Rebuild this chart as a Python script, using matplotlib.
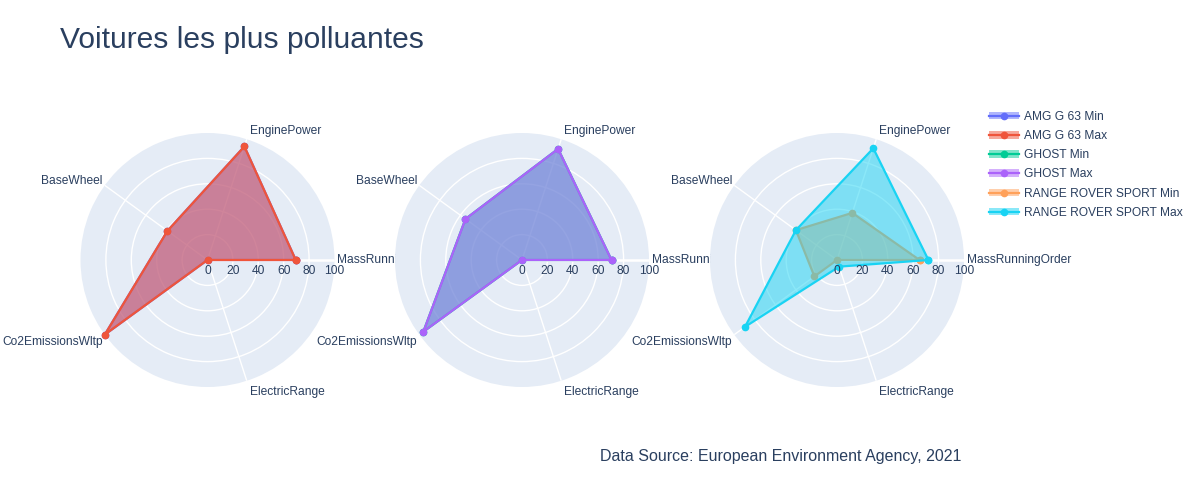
#!/usr/bin/env python3
"""
Radar charts: most polluting cars (normalised min/max specs per model).
"""

import numpy as np
import matplotlib
matplotlib.use("Agg")
import matplotlib.pyplot as plt
from matplotlib.lines import Line2D
from matplotlib.patches import Patch
from matplotlib.legend_handler import HandlerTuple

plt.rcParams["font.family"] = ["Liberation Sans", "DejaVu Sans"]

# --- data (normalised 0-100) ---
categories = ["MassRunningOrder", "EnginePower", "BaseWheel", "Co2EmissionsWltp", "ElectricRange"]
radial_ticks = [0, 20, 40, 60, 80, 100]

amg_min = [69.5, 94, 39, 100, 0]
amg_max = [69.5, 94, 39, 100, 0]
ghost_min = [70.5, 92, 55, 96, 0]
ghost_max = [70.5, 92, 55, 96, 0]
rr_min = [65, 39, 40, 22, 0]
rr_max = [72, 92.5, 40, 89.5, 5.5]

panels = [
    [("AMG G 63 Min", amg_min, "#636efa"), ("AMG G 63 Max", amg_max, "#EF553B")],
    [("GHOST Min", ghost_min, "#00cc96"), ("GHOST Max", ghost_max, "#ab63fa")],
    [("RANGE ROVER SPORT Min", rr_min, "#FFA15A"), ("RANGE ROVER SPORT Max", rr_max, "#19d3f3")],
]

TEXT = "#2a3f5f"
BG = "#E5ECF6"
FS = 8.64  # 12px

W, H = 1200, 500
fig = plt.figure(figsize=(12, 5), dpi=100)

theta = np.deg2rad(np.arange(len(categories)) * 360 / len(categories))
theta_c = np.append(theta, theta[0])

radius_px = 127
centers_x = [207.5, 522, 837]
center_y = 260

handles, labels = [], []
for cx, panel in zip(centers_x, panels):
    ax = fig.add_axes([(cx - radius_px) / W, (H - center_y - radius_px) / H,
                       2 * radius_px / W, 2 * radius_px / H], projection="polar")
    ax.set_facecolor(BG)
    ax.spines["polar"].set_visible(False)
    ax.set_ylim(0, 100)
    ax.set_xticks(theta)
    ax.set_xticklabels([])
    ax.set_yticks([20, 40, 60, 80])
    ax.set_yticklabels([])
    ax.grid(color="white", linewidth=1)
    ax.tick_params(length=0)
    # radial axis line
    ax.plot([0, 0], [0, 100], color="white", lw=1.8, zorder=1)

    for i, (name, vals, color) in enumerate(panel):
        v = np.append(vals, vals[0])
        ax.fill(theta_c, v, color=color, alpha=0.5, lw=0, zorder=2 + 2 * i)
        ax.plot(theta_c, v, color=color, lw=1.6, marker="o", ms=4.5,
                zorder=3 + 2 * i, clip_on=False)
        handles.append((Patch(facecolor=color, alpha=0.5, lw=0),
                        Line2D([], [], color=color, lw=1.6, marker="o", ms=4.5)))
        labels.append(name)

    for r in radial_ticks:
        ax.annotate(str(r), xy=(0, r), xytext=(0, -5), textcoords="offset pixels",
                    ha="center", va="top", fontsize=FS, color=TEXT, zorder=10)

    for t, cat in zip(theta, categories):
        c, s = np.cos(t), np.sin(t)
        ha = "left" if c > 0.1 else ("right" if c < -0.1 else "center")
        dx = 3 if c > 0 else -2
        dy = 10 * s - 1.5 if abs(s) > 0.1 else 0
        ax.annotate(cat, xy=(t, 100), xytext=(dx, dy), textcoords="offset pixels",
                    ha=ha, va="center", fontsize=FS, color=TEXT, annotation_clip=False)

fig.text(60 / W, 1 - 40 / H, "Voitures les plus polluantes", fontsize=21.6,
         color=TEXT, ha="left", va="center")
fig.text(600 / W, 1 - 457 / H, "Data Source: European Environment Agency, 2021",
         fontsize=11.5, color=TEXT, ha="left", va="center")

fig.legend(handles, labels, handler_map={tuple: HandlerTuple(ndivide=1)},
           loc="upper left", bbox_to_anchor=(984 / W, 1 - 106 / H), frameon=False,
           fontsize=FS, labelcolor=TEXT, handlelength=2.5, handleheight=0.6,
           labelspacing=0.6, handletextpad=0.4, borderaxespad=0)

plt.savefig("out.png", dpi=100)
plt.close()
